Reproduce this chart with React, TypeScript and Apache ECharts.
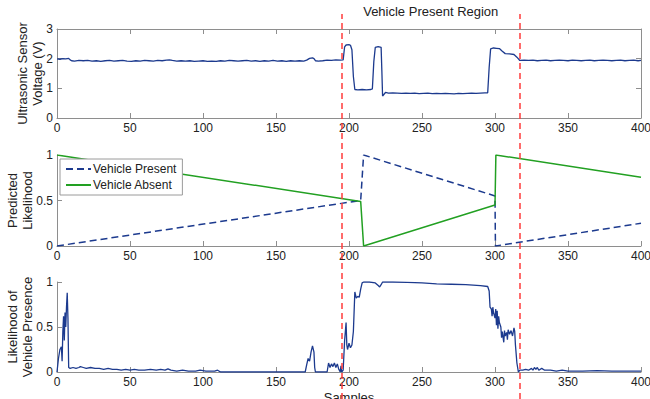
import React, { useEffect, useRef } from "react";
import * as echarts from "echarts";

// ---------- data ----------
const sensorVoltage: [number, number][] = [
  [0, 1.99], [2, 1.98], [4, 2.0], [6, 1.99], [8, 2.01], [9, 1.96], [10, 1.93], [12, 1.92], [15, 1.94],
  [18, 1.93], [21, 1.94], [24, 1.92], [27, 1.93], [30, 1.91], [33, 1.93], [36, 1.94], [39, 1.92],
  [42, 1.93], [45, 1.94], [48, 1.92], [51, 1.91], [54, 1.93], [57, 1.92], [60, 1.94], [63, 1.93],
  [66, 1.92], [69, 1.94], [72, 1.93], [75, 1.95], [77, 1.96], [79, 1.94], [82, 1.92], [85, 1.93],
  [88, 1.92], [91, 1.93], [94, 1.91], [97, 1.92], [100, 1.93], [103, 1.91], [106, 1.92], [109, 1.91],
  [112, 1.93], [115, 1.92], [118, 1.94], [121, 1.93], [124, 1.92], [127, 1.93], [130, 1.94], [133, 1.92],
  [136, 1.93], [139, 1.91], [142, 1.93], [145, 1.92], [148, 1.94], [151, 1.92], [154, 1.93], [157, 1.91],
  [160, 1.93], [163, 1.92], [166, 1.93], [169, 1.92], [171, 1.95], [173, 2.01], [175, 2.03], [176, 2.0],
  [177, 1.93], [179, 1.92], [182, 1.93], [185, 1.95], [188, 1.94], [191, 1.96], [194, 1.95], [196, 1.96],
  [197, 2.4], [198, 2.46], [200, 2.47], [201, 2.45], [202, 2.3], [203, 1.4], [204, 0.96], [206, 0.95],
  [209, 0.96], [212, 0.95], [215, 0.96], [216, 0.98], [217, 1.9], [218, 2.38], [220, 2.41], [222, 2.38],
  [222.5, 1.6], [223, 0.74], [224, 0.8], [225, 0.86], [227, 0.84], [230, 0.85], [233, 0.84], [236, 0.83],
  [239, 0.84], [242, 0.83], [245, 0.84], [248, 0.82], [251, 0.83], [254, 0.84], [257, 0.82], [260, 0.83],
  [263, 0.82], [266, 0.83], [269, 0.82], [272, 0.81], [275, 0.83], [278, 0.82], [281, 0.83], [284, 0.84],
  [287, 0.83], [290, 0.84], [293, 0.85], [295, 0.85], [296, 1.7], [297, 2.33], [299, 2.36], [301, 2.35],
  [303, 2.34], [305, 2.25], [307, 2.17], [310, 2.16], [313, 2.14], [315, 2.05], [317, 1.94], [320, 1.95],
  [323, 1.94], [326, 1.95], [329, 1.93], [332, 1.94], [335, 1.95], [338, 1.93], [341, 1.94], [344, 1.95],
  [347, 1.94], [350, 1.93], [353, 1.95], [356, 1.94], [359, 1.93], [362, 1.94], [365, 1.95], [368, 1.93],
  [371, 1.94], [374, 1.95], [377, 1.94], [380, 1.93], [383, 1.94], [386, 1.95], [389, 1.93], [392, 1.94],
  [395, 1.95], [398, 1.93], [400, 1.94],
];

const predictedPresent: [number, number][] = [
  [0, 0], [208, 0.5], [210, 1.0], [300, 0.55], [300.3, 0], [400, 0.25],
];
const predictedAbsent: [number, number][] = [
  [0, 1.0], [208, 0.49], [210, 0], [300, 0.45], [300.6, 1.0], [400, 0.755],
];

const presenceLikelihood: [number, number][] = [
  [0, 0], [1, 0.15], [2, 0.25], [3, 0.28], [3.5, 0.12], [4, 0.45], [4.5, 0.62], [5, 0.35], [5.5, 0.66],
  [6, 0.5], [6.5, 0.72], [7, 0.88], [7.5, 0.6], [8, 0.05], [9, 0.04], [11, 0.05], [13, 0.04], [15, 0.05],
  [16, 0.06], [18, 0.05], [20, 0.04], [23, 0.05], [26, 0.04], [29, 0.04], [32, 0.03], [35, 0.04],
  [38, 0.03], [41, 0.03], [44, 0.02], [47, 0.03], [50, 0.02], [53, 0.03], [56, 0.02], [60, 0.02],
  [64, 0.03], [68, 0.02], [71, 0.03], [74, 0.02], [76, 0.035], [78, 0.02], [82, 0.01], [86, 0.02],
  [90, 0.01], [95, 0.01], [98, 0.02], [102, 0.01], [108, 0.01], [110, 0.02], [112, 0], [170, 0],
  [171, 0.08], [172, 0.15], [173, 0.12], [174, 0.22], [175, 0.29], [176, 0.22], [176.5, 0.05], [177, 0],
  [185, 0], [186, 0.1], [187, 0.05], [188, 0.09], [189, 0.06], [190, 0.1], [191, 0.05], [192, 0.09],
  [193, 0.03], [194, 0], [194.5, 0.07], [195, 0], [196, 0.02], [197, 0.35], [198, 0.55], [198.5, 0.3],
  [199, 0.25], [200, 0.32], [201, 0.27], [202, 0.3], [203, 0.45], [204, 0.89], [205, 0.82], [206, 0.84],
  [207, 0.83], [208, 0.92], [209, 0.99], [210, 1.0], [214, 1.0], [218, 0.99], [220, 0.96], [221, 0.945],
  [222, 0.97], [223, 1.0], [230, 1.0], [240, 0.995], [250, 0.99], [260, 0.98], [270, 0.975], [280, 0.97],
  [290, 0.96], [295, 0.95], [296, 0.9], [296.6, 0.72], [297.5, 0.7], [298, 0.62], [298.5, 0.72],
  [299, 0.66], [300, 0.6], [300.5, 0.7], [301, 0.52], [301.5, 0.68], [302, 0.48], [302.5, 0.62],
  [303, 0.55], [304, 0.5], [304.5, 0.38], [305, 0.45], [306, 0.33], [306.5, 0.46], [307, 0.4],
  [308, 0.44], [308.5, 0.36], [309, 0.47], [310, 0.42], [311, 0.46], [312, 0.4], [313, 0.49],
  [313.5, 0.45], [314, 0.3], [315, 0.1], [316, 0], [317, 0.02], [319, 0.02], [321, 0.03], [323, 0.02],
  [325, 0.04], [326, 0.02], [327, 0.05], [328, 0.03], [329, 0.05], [330, 0.02], [332, 0.04], [334, 0.02],
  [338, 0.02], [342, 0.01], [346, 0.02], [350, 0.01], [360, 0.01], [370, 0.015], [380, 0.01],
  [390, 0.01], [400, 0.01],
];

const regionBounds = [195, 317];
const regionLabel = "Vehicle Present Region";
const legendNames = ["Vehicle Present", "Vehicle Absent"];
const yNames = ["Ultrasonic Sensor\nVoltage (V)", "Predicted\nLikelihood", "Likelihood of\nVehicle Presence"];
const xName = "Samples";

// ---------- styles ----------
const FONT = "'Liberation Sans', Arial, Helvetica, sans-serif";
const AXIS = "#8e8e8e";
const TXT = "#222";
const BLUE = "#1c3a8e";
const GREEN = "#22a022";
const RED = "#ff3b3b";

function xAxisFor(gridIndex: number, extra: any = {}) {
  return {
    type: "value", gridIndex, min: 0, max: 400, interval: 50,
    nameMoveOverlap: false,
    axisLine: { show: true, onZero: false, lineStyle: { color: AXIS, width: 1 } },
    axisTick: { show: true, inside: true, length: 5, lineStyle: { color: AXIS } },
    axisLabel: { color: TXT, fontSize: 12, margin: 4, fontFamily: FONT },
    splitLine: { show: false },
    ...extra,
  };
}
function yAxisFor(gridIndex: number, max: number, interval: number, name: string, gap: number, extra: any = {}) {
  return {
    type: "value", gridIndex, min: 0, max, interval,
    name, nameLocation: "middle", nameGap: gap, nameMoveOverlap: false,
    nameTextStyle: { color: TXT, fontSize: 13, fontFamily: FONT, lineHeight: 15 },
    axisLine: { show: true, onZero: false, lineStyle: { color: AXIS, width: 1 } },
    axisTick: { show: true, inside: true, length: 5, lineStyle: { color: AXIS } },
    axisLabel: { color: TXT, fontSize: 12, margin: 4, fontFamily: FONT },
    splitLine: { show: false },
    ...extra,
  };
}

const gridBase = { left: 57, right: 9, containLabel: false, outerBoundsMode: "none" };

export default function App() {
  const ref = useRef<HTMLDivElement>(null);
  useEffect(() => {
    if (!ref.current) return;
    const chart = echarts.init(ref.current, null, { renderer: "svg" });
    const option: any = {
      animation: false,
      backgroundColor: "#fff",
      textStyle: { fontFamily: FONT },
      grid: [
        { ...gridBase, top: 29, height: 89 },
        { ...gridBase, top: 155, height: 91 },
        { ...gridBase, top: 282, height: 90 },
        { ...gridBase, top: 14, bottom: 0 },
      ],
      xAxis: [
        xAxisFor(0),
        xAxisFor(0, { position: "top", axisLabel: { show: false } }),
        xAxisFor(1),
        xAxisFor(2, {
          name: xName, nameLocation: "middle", nameGap: 19,
          nameTextStyle: { color: TXT, fontSize: 13, fontFamily: FONT, verticalAlign: "top" },
        }),
        { type: "value", gridIndex: 3, min: 0, max: 400, show: false },
      ],
      yAxis: [
        yAxisFor(0, 3, 1, yNames[0], 12),
        yAxisFor(0, 3, 1, "", 0, { position: "right", axisLabel: { show: false } }),
        yAxisFor(1, 1, 0.5, yNames[1], 22),
        yAxisFor(2, 1, 0.5, yNames[2], 22),
        { type: "value", gridIndex: 3, min: 0, max: 1, show: false },
      ],
      legend: {
        data: legendNames,
        orient: "vertical",
        left: 60, top: 159,
        backgroundColor: "#fff",
        borderColor: "#9a9a9a", borderWidth: 1, borderRadius: 0,
        padding: [4, 6, 4, 5],
        itemGap: 4, itemWidth: 25, itemHeight: 10,
        itemStyle: { opacity: 0 },
        textStyle: { color: TXT, fontSize: 12, fontFamily: FONT, padding: [0, 0, 0, -3] },
      },
      series: [
        {
          type: "line", xAxisIndex: 0, yAxisIndex: 0, data: sensorVoltage,
          showSymbol: false, symbol: "none", lineStyle: { color: BLUE, width: 1.3 },
        },
        {
          name: legendNames[0], type: "line", xAxisIndex: 2, yAxisIndex: 2, data: predictedPresent,
          showSymbol: false, symbol: "none", itemStyle: { color: BLUE },
          lineStyle: { color: BLUE, width: 1.5, type: [7, 4] },
        },
        {
          name: legendNames[1], type: "line", xAxisIndex: 2, yAxisIndex: 2, data: predictedAbsent,
          showSymbol: false, symbol: "none", itemStyle: { color: GREEN },
          lineStyle: { color: GREEN, width: 1.5 },
        },
        {
          type: "line", xAxisIndex: 3, yAxisIndex: 3, data: presenceLikelihood,
          showSymbol: false, symbol: "none", lineStyle: { color: BLUE, width: 1.3 },
        },
        {
          type: "line", xAxisIndex: 4, yAxisIndex: 4, z: 10, silent: true,
          data: regionBounds.map((b) => [b, 0]),
          showSymbol: false, symbol: "none", lineStyle: { opacity: 0 },
          markLine: {
            silent: true, symbol: "none", animation: false,
            label: { show: false },
            lineStyle: { color: RED, width: 1.5, type: [6, 4] },
            data: regionBounds.map((b) => ({ xAxis: b })),
          },
          markArea: {
            silent: true,
            itemStyle: { color: "rgba(0,0,0,0)" },
            label: {
              show: true, position: "insideTop", distance: 0, offset: [0, -9],
              color: TXT, fontSize: 13, fontFamily: FONT,
            },
            data: [[{ xAxis: regionBounds[0], name: regionLabel }, { xAxis: regionBounds[1] }]],
          },
        },
      ],
    };
    chart.setOption(option);
    return () => chart.dispose();
  }, []);
  return (
    <div
      ref={ref}
      style={{ position: "absolute", left: 0, top: 0, width: 650, height: 399, overflow: "hidden" }}
    />
  );
}
